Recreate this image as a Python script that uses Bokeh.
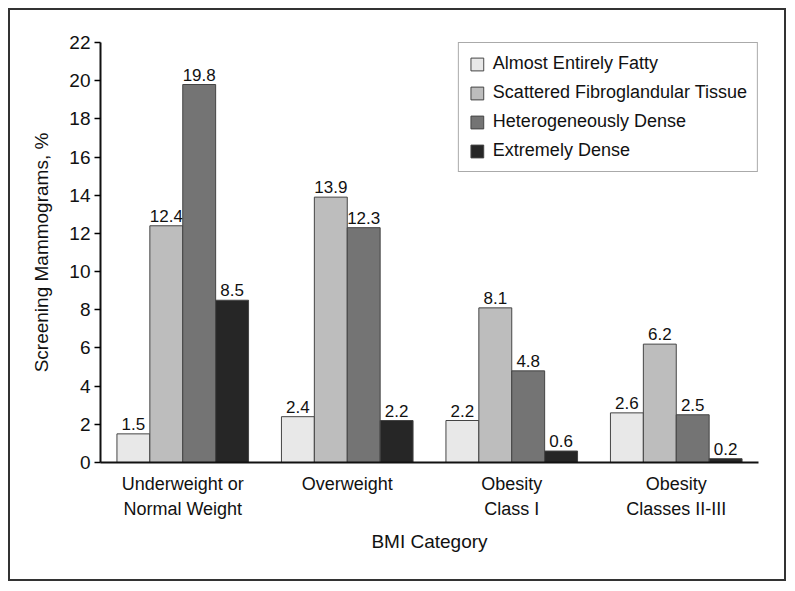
from bokeh.plotting import figure
from bokeh.models import (ColumnDataSource, FactorRange, Range1d, Legend, LegendItem,
                          CategoricalAxis, CustomJSTickFormatter)
from bokeh.transform import dodge
from bokeh.core.properties import value
from bokeh.embed import file_html
from bokeh.resources import INLINE

categories = ["Underweight or Normal Weight", "Overweight", "Obesity Class I", "Obesity Classes II-III"]
label_line1 = ["Underweight or", "Overweight", "Obesity", "Obesity"]
label_line2 = ["Normal Weight", "", "Class I", "Classes II-III"]
series_names = ["Almost Entirely Fatty", "Scattered Fibroglandular Tissue", "Heterogeneously Dense", "Extremely Dense"]
fatty = [1.5, 2.4, 2.2, 2.6]
scattered = [12.4, 13.9, 8.1, 6.2]
hetero = [19.8, 12.3, 4.8, 2.5]
extreme = [8.5, 2.2, 0.6, 0.2]
colors = ["#e8e8e8", "#bdbdbd", "#747474", "#262626"]
y_ticks = list(range(0, 23, 2))

FONT = "Liberation Sans"
INK = "#111111"

src = ColumnDataSource(dict(cat=categories, s0=fatty, s1=scattered, s2=hetero, s3=extreme,
                            l0=[f"{v:.1f}" for v in fatty], l1=[f"{v:.1f}" for v in scattered],
                            l2=[f"{v:.1f}" for v in hetero], l3=[f"{v:.1f}" for v in extreme]))

p = figure(x_range=FactorRange(*categories, range_padding=0), y_range=Range1d(0, 22),
           width=778, height=573, output_backend="svg", toolbar_location=None,
           min_border_left=90, min_border_right=30, min_border_top=32, min_border_bottom=121)
p.margin = (8, 8, 8, 8)
p.styles = {"border": "2px solid #333333"}
p.outline_line_color = None
p.xgrid.visible = False
p.ygrid.visible = False

offsets = [-0.3, -0.1, 0.1, 0.3]
renderers = []
for i in range(4):
    r = p.vbar(x=dodge("cat", offsets[i], range=p.x_range), top=f"s{i}", width=0.2, source=src,
               fill_color=colors[i], line_color="#444444", line_width=1)
    renderers.append(r)
    p.text(x=dodge("cat", offsets[i], range=p.x_range), y=f"s{i}", text=f"l{i}", source=src,
           text_align="center", text_baseline="bottom", y_offset=-4,
           text_font=value(FONT), text_font_size="17px", text_color=INK)

legend = Legend(items=[LegendItem(label=series_names[i], renderers=[renderers[i]]) for i in range(4)],
                location="top_right", border_line_color="#555555", border_line_width=1.5,
                label_text_font=FONT, label_text_font_size="18px", label_text_color=INK,
                glyph_width=16, glyph_height=16, label_height=20, spacing=8, padding=10,
                margin=0, label_standoff=8, background_fill_alpha=1)
p.add_layout(legend, "center")

p.yaxis.ticker = y_ticks
p.yaxis.minor_tick_line_color = None
p.yaxis.major_tick_out = 6
p.yaxis.major_tick_in = 0
p.yaxis.major_tick_line_width = 1.5
p.yaxis.axis_line_width = 2
p.yaxis.axis_line_color = INK
p.yaxis.major_label_text_font = FONT
p.yaxis.major_label_text_font_size = "19px"
p.yaxis.major_label_text_color = INK
p.yaxis.major_label_standoff = 4
p.yaxis.axis_label = "Screening Mammograms, %"
p.yaxis.axis_label_text_font = FONT
p.yaxis.axis_label_text_font_size = "19px"
p.yaxis.axis_label_text_font_style = "normal"
p.yaxis.axis_label_text_color = INK
p.yaxis.axis_label_standoff = 14

JS = "const k = (m instanceof Map) ? m.get(tick) : m[tick]; return (k === undefined) ? tick : k;"

# first line of category labels on main axis
xa = p.xaxis[0]
xa.formatter = CustomJSTickFormatter(args=dict(m=dict(zip(categories, label_line1))), code=JS)
xa.major_tick_line_color = None
xa.minor_tick_line_color = None
xa.axis_line_width = 2
xa.axis_line_color = INK
xa.major_label_text_font = FONT
xa.major_label_text_font_size = "18px"
xa.major_label_text_color = INK
xa.major_label_standoff = 5

# second line of category labels + axis title on an extra axis
xa2 = CategoricalAxis(formatter=CustomJSTickFormatter(args=dict(m=dict(zip(categories, label_line2))), code=JS),
                      axis_line_color=None, major_tick_line_color=None, minor_tick_line_color=None,
                      major_label_text_font=FONT, major_label_text_font_size="18px",
                      major_label_text_color=INK, major_label_standoff=-4,
                      axis_label="BMI Category", axis_label_text_font=FONT,
                      axis_label_text_font_size="19px", axis_label_text_font_style="normal",
                      axis_label_text_color=INK, axis_label_standoff=9)
p.add_layout(xa2, "below")

open("out.html", "w").write(file_html(p, INLINE))
